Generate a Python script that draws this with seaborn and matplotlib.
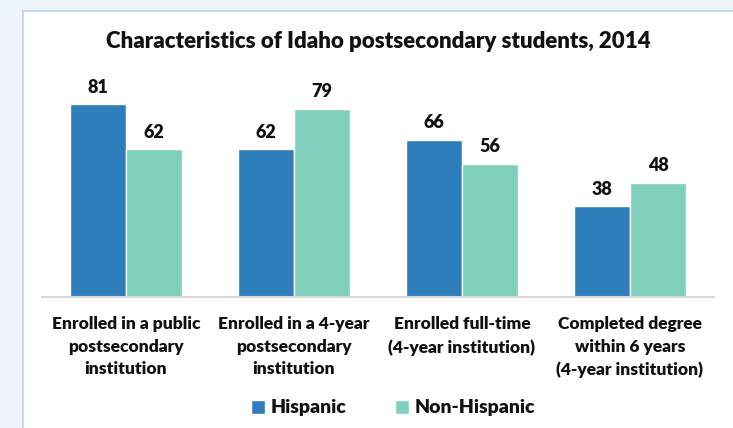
import pandas as pd
import seaborn as sns
import matplotlib.pyplot as plt
from matplotlib.patches import Rectangle

categories = ["Enrolled in a public\npostsecondary\ninstitution",
              "Enrolled in a 4-year\npostsecondary\ninstitution",
              "Enrolled full-time\n(4-year institution)",
              "Completed degree\nwithin 6 years\n(4-year institution)"]
hispanic = [81, 62, 66, 38]
non_hispanic = [62, 79, 56, 48]
groups = ["Hispanic", "Non-Hispanic"]

df = pd.DataFrame({"Category": categories * 2,
                   "Value": hispanic + non_hispanic,
                   "Group": [groups[0]] * 4 + [groups[1]] * 4})

sns.set_style("white")
plt.rcParams['font.family'] = ['Lato', 'DejaVu Sans']
W = "heavy"

fig = plt.figure(figsize=(7.33, 4.28), dpi=100)
fig.patch.set_facecolor("#edf5fa")
# white panel with a light blue edge
fig.patches.append(Rectangle((23 / 733, -0.01), 1.0, 1 - 11 / 428 + 0.01,
                             transform=fig.transFigure, facecolor="white",
                             edgecolor="#b4d4ea", linewidth=1.2, zorder=-10))

ax = fig.add_axes([42 / 733, 1 - 297 / 428, 672 / 733, 227 / 428])
ax.set_facecolor("none")
ax.set_zorder(5)
b = sns.barplot(data=df, x="Category", y="Value", hue="Group",
                palette=["#2e7ebc", "#7fcfbb"], width=0.667, saturation=1,
                ax=ax, legend=True)
ax.set_xlim(-0.5, 3.5)
ax.set_ylim(0, 95.3)
for c in ax.containers:
    ax.bar_label(c, padding=6, fontsize=13, fontweight=W, color="#111111")

ax.set_xlabel("")
ax.set_ylabel("")
ax.set_yticks([])
ax.tick_params(axis="x", length=0, pad=14)
plt.setp(ax.get_xticklabels(), fontsize=12.5, fontweight=W,
         color="#111111", linespacing=1.5)
for s in ["top", "right", "left"]:
    ax.spines[s].set_visible(False)
ax.spines["bottom"].set_color("#d9d9d9")
ax.spines["bottom"].set_linewidth(1.5)

leg = ax.legend(loc="center", bbox_to_anchor=(393 / 733, 1 - 408 / 428),
                bbox_transform=fig.transFigure, ncol=2, frameon=False,
                handlelength=0.7, handleheight=0.7, handletextpad=0.3,
                columnspacing=2.5, prop={"size": 14, "weight": W})
for t in leg.get_texts():
    t.set_color("#111111")

fig.text(378 / 733, 1 - 42 / 428, "Characteristics of Idaho postsecondary students, 2014",
         ha="center", va="center", fontsize=16, fontweight=W, color="#111111",
         zorder=6)

fig.savefig("out.png", dpi=100, facecolor=fig.get_facecolor())
